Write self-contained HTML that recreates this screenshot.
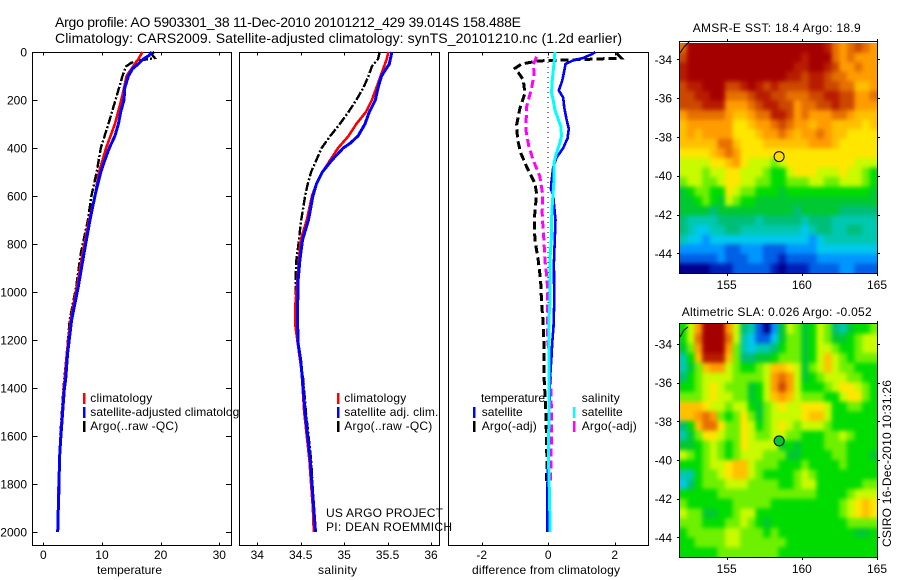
<!DOCTYPE html>
<html lang="en">
<head>
<meta charset="utf-8">
<title>Argo profile 5903301_38</title>
<style>
html,body{margin:0;padding:0;background:#fff;}
svg{display:block;}
text{font-family:"Liberation Sans",sans-serif;fill:#000;}
</style>
</head>
<body>
<svg id="fig" xmlns="http://www.w3.org/2000/svg" width="900" height="580" viewBox="0 0 900 580">
<rect x="0" y="0" width="900" height="580" fill="#fff"/>
<text x="55" y="27" font-size="14" textLength="466">Argo profile: AO 5903301_38 11-Dec-2010 20101212_429 39.014S 158.488E</text>
<text x="55" y="43" font-size="14" textLength="567">Climatology: CARS2009. Satellite-adjusted climatology: synTS_20101210.nc (1.2d earlier)</text>
<g id="layer"></g>
</svg>
<script>
// ---- depth axis ticks ----
const depthTicks = [0,200,400,600,800,1000,1200,1400,1600,1800,2000];
const tempTicks = [0,10,20,30];
const salTicks = [34,34.5,35,35.5,36];
const diffTicks = [-2,0,2];
const lonTicks = [155,160,165];
const latTicks = [-34,-36,-38,-40,-42,-44];

// ---- temperature panel ----
const tempClimDepths = [0,30,60,100,150,200,300,400,500,600,700,839,978,1117,1256,1367,1400,1600,1800,2000];
const tempClimValues = [16.9,16.2,15.3,14.2,13.75,13.3,12.2,10.7,9.5,8.8,7.8,6.7,5.75,4.65,4,3.65,3.5,2.95,2.6,2.45];
const tempSatDepths = [0,15,30,50,70,100,150,200,250,300,350,400,450,500,600,700,839,978,1117,1256,1367,1400,1600,1700,1800,1900,2000];
const tempSatValues = [18.5,18,17,16.2,15.2,14.5,13.9,13.75,13.2,12.8,12.2,11.25,10.5,9.8,8.8,7.96,6.93,5.97,4.83,4.15,3.8,3.6,3,2.75,2.7,2.55,2.45];
const tempArgoDepths = [0,10,25,35,45,60,100,150,200,300,400,500,600,700,839,978,1117,1256,1400,1600,1800,2000];
const tempArgoValues = [18.9,18.5,19,16.5,15,14.1,13.5,12.9,12.3,11.1,9.8,9.1,8.2,7.6,6.4,5.6,4.5,4,3.45,2.9,2.6,2.45];

// ---- salinity panel ----
const salClimDepths = [0,30,100,150,200,250,300,350,400,450,500,550,600,700,783,867,1047,1144,1172,1330,1500,1600,1700,1800,1900,2000];
const salClimValues = [35.51,35.49,35.42,35.37,35.32,35.25,35.14,35.05,34.93,34.84,34.75,34.68,34.63,34.57,34.5,34.48,34.44,34.44,34.45,34.51,34.54,34.57,34.6,34.62,34.64,34.65];
const salSatDepths = [0,50,100,150,200,250,300,350,380,400,450,500,550,600,700,783,867,950,1047,1144,1214,1283,1367,1500,1600,1700,1800,1900,2000];
const salSatValues = [35.55,35.52,35.43,35.39,35.36,35.29,35.24,35.16,35.07,34.99,34.86,34.75,34.68,34.64,34.59,34.52,34.49,34.47,34.465,34.465,34.47,34.5,34.52,34.55,34.58,34.61,34.63,34.65,34.67];
const salArgoDepths = [0,30,60,100,150,200,250,300,350,400,450,500,550,600,714,783,867,950,1047,1158,1200,1283,1367,1500,1700,1900];
const salArgoValues = [35.41,35.39,35.32,35.28,35.22,35.14,35.05,34.95,34.84,34.74,34.68,34.62,34.58,34.55,34.5,34.48,34.45,34.44,34.44,34.45,34.47,34.5,34.53,34.56,34.62,34.65];

// ---- difference panel ----
const diffTempSatDepths = [0,10,25,35,50,80,120,160,190,230,280,320,360,400,440,480,540,570,600,700,880,1047,1144,1214,1269,1367,1500,1700,1800,2000];
const diffTempSatValues = [1.42,1.3,1.05,.75,.52,.48,.42,.32,.45,.48,.55,.62,.58,.45,.25,.15,.1,.08,.15,.22,.17,.18,.16,.12,.1,.05,.03,0,-.02,-.03];
const diffSalSatDepths = [0,40,80,120,170,200,240,280,310,350,380,420,460,520,580,640,700,770,867,1047,1117,1367,1500,1700,1800,2000];
const diffSalSatValues = [.2,.18,.15,.12,.1,.15,.2,.3,.38,.4,.35,.25,.18,.18,.15,.12,.1,.1,.05,.05,.02,.02,.02,.01,.03,.06];
const diffTempArgoDepths = [5,26,28,30,33,35,37,50,68,86,116,172,234,304,366,422,478,547,590,700,783,867,950,1047,1130,1214,1297,1367,1500,1700,1800];
const diffTempArgoValues = [2.05,2.2,1.7,1.3,.7,.2,-.3,-.8,-1,-.9,-.75,-.7,-.85,-.95,-.92,-.82,-.65,-.4,-.35,-.42,-.4,-.3,-.23,-.2,-.15,-.13,-.12,-.12,-.07,-.04,-.05];
const diffSalArgoDepths = [20,54,89,151,228,325,394,450,519,589,672,700,783,867,950,1033,1200,1297,1367,1500,1600,1700,1800];
const diffSalArgoValues = [-.35,-.45,-.42,-.5,-.65,-.67,-.58,-.45,-.25,-.17,-.18,-.17,-.13,-.1,-.03,-.02,-.02,.07,.07,.1,.1,.08,.07];

// ---- SST map: colour levels, 0 = coldest, 17 = warmest; north row first ----
const sstLevels = [
[14,17,17,17,17,17,17,17,17,17,17,17,17,17,17,17,17,17,17,16,14,13,14,15,14,13],
[15,17,17,17,17,17,17,17,17,17,17,17,17,17,17,17,16,17,17,17,14,13,14,13,13,13],
[16,17,17,17,17,17,17,17,17,17,17,17,17,17,17,16,16,17,17,16,15,13,13,14,13,13],
[16,17,17,17,17,17,17,17,17,17,17,17,17,17,16,16,15,16,16,15,14,14,13,13,13,13],
[15,16,16,17,17,17,15,15,16,17,16,15,16,15,15,15,15,16,16,15,15,14,14,12,12,13],
[15,15,16,16,17,17,14,14,14,15,16,16,15,15,14,14,14,15,15,16,16,15,15,13,13,14],
[15,15,15,16,16,16,13,13,13,14,15,16,16,15,15,13,14,14,15,15,16,15,15,13,13,13],
[13,14,14,14,14,14,13,12,12,13,14,14,16,16,15,13,14,13,13,13,14,14,13,12,12,12],
[12,13,13,13,13,13,13,11,11,12,13,13,14,15,14,13,13,12,13,13,12,12,12,12,11,12],
[12,13,12,13,13,13,13,11,11,11,12,13,13,14,13,12,13,13,14,13,12,12,11,11,11,11],
[12,12,12,12,12,14,14,12,11,11,11,12,12,12,12,12,12,13,13,13,12,11,11,11,11,11],
[11,11,11,11,12,13,14,13,11,11,11,11,11,11,11,11,11,11,11,11,11,11,11,11,11,11],
[10,10,10,10,11,11,12,13,11,10,10,10,9,10,11,11,11,11,11,11,11,11,11,10,10,10],
[10,10,10,9,10,10,11,11,10,10,10,9,8,8,10,11,11,11,10,10,10,11,10,10,9,8],
[9,10,10,9,9,10,11,11,10,10,9,9,8,8,9,9,9,10,10,9,9,10,10,10,9,8],
[7,8,9,9,8,8,11,10,9,9,8,8,8,7,8,8,8,8,8,8,8,8,8,8,8,7],
[7,7,8,9,8,7,10,9,8,8,7,7,7,7,7,7,7,7,7,7,7,7,7,7,7,7],
[7,7,7,7,6,7,7,7,7,7,7,7,7,7,7,6,7,7,7,7,7,6,6,6,6,6],
[6,5,5,5,5,6,6,6,6,6,5,6,6,6,6,6,5,6,6,6,5,5,5,5,5,5],
[6,5,4,4,5,5,6,6,5,5,5,5,5,5,5,5,4,5,6,6,5,5,6,6,5,5],
[5,4,4,3,4,4,4,4,4,4,4,4,4,4,4,4,4,3,4,5,5,5,5,5,5,5],
[3,3,3,3,3,3,2,2,3,3,3,2,2,2,3,3,3,3,4,4,4,4,4,4,4,4],
[2,2,2,2,2,3,2,2,2,3,3,2,2,1,2,2,2,2,3,3,3,3,3,3,3,3],
[0,0,0,0,1,1,1,2,2,2,2,2,1,0,1,1,1,2,2,2,2,3,3,2,2,2]
];

// ---- SLA map: colour levels, north row first ----
const slaLevels = [
[8,10,13,17,17,17,13,10,6,5,2,0,3,7,10,9,7,8,10,9,6,5,7,8,8,9],
[8,10,14,17,17,17,14,10,5,4,2,2,4,7,9,9,7,8,10,9,7,7,8,9,10,10],
[7,9,13,17,17,17,13,9,5,4,5,5,6,8,9,9,7,8,10,10,9,8,8,9,10,10],
[5,8,12,16,16,16,12,9,6,6,7,7,8,9,9,9,7,8,10,12,10,9,8,9,9,9],
[5,7,9,12,13,13,10,9,8,8,9,10,12,12,11,10,7,9,10,12,10,9,9,8,8,8],
[6,8,9,10,10,10,10,9,9,9,9,10,13,14,13,10,7,8,9,10,10,10,9,9,8,8],
[8,8,9,10,11,10,9,9,9,7,8,10,13,15,13,10,8,8,8,9,10,11,11,10,9,8],
[9,9,9,10,11,10,10,9,9,7,8,10,12,13,12,10,9,9,9,8,8,10,11,11,9,8],
[12,12,12,11,10,10,9,10,10,8,7,9,10,11,10,10,11,11,11,10,8,8,9,9,8,8],
[12,12,13,14,13,9,8,9,11,9,7,9,10,10,10,10,11,12,12,10,8,8,8,8,8,8],
[6,8,12,14,14,11,9,9,11,10,8,9,10,11,10,9,10,10,10,9,8,8,8,8,8,8],
[5,7,9,11,11,10,9,9,11,10,9,9,10,10,9,9,8,8,8,9,9,10,9,8,8,8],
[7,7,8,9,10,9,8,9,11,10,10,10,10,7,8,7,8,8,8,9,9,9,8,8,8,8],
[10,9,8,9,10,9,8,9,10,10,10,9,9,9,7,7,8,8,8,8,9,9,8,8,8,7],
[8,8,8,9,10,10,11,12,12,10,9,9,9,8,8,8,9,8,8,8,8,9,8,8,8,8],
[5,5,8,9,9,10,11,12,12,10,9,8,8,8,8,9,10,9,8,8,8,8,8,8,8,8],
[4,6,8,9,9,9,10,10,10,9,9,9,9,8,8,9,10,10,8,8,8,8,8,8,9,9],
[8,8,8,8,8,9,9,9,9,9,9,9,9,9,9,9,9,9,8,8,8,8,9,10,10,10],
[9,8,8,8,8,8,8,9,9,9,9,9,8,8,8,8,8,8,8,8,8,9,10,11,12,11],
[10,9,9,7,7,8,8,9,10,10,8,8,8,8,8,8,8,8,8,8,8,9,10,11,12,11],
[9,9,9,8,8,8,9,9,10,9,8,7,8,8,8,8,8,8,8,8,8,8,9,9,9,9],
[8,9,9,9,9,9,10,10,9,9,9,8,9,8,8,8,8,8,8,8,8,8,8,7,7,8],
[8,8,9,9,9,9,10,10,9,9,9,9,9,9,8,8,8,8,8,8,8,8,8,8,8,8],
[8,8,8,8,8,9,9,9,9,9,9,9,9,8,8,8,8,8,8,8,8,8,8,8,8,8]
];

// ---- float position ----
const floatLon = 158.488;
const floatLat = -39.014;

const palette = ["#00008c","#0020b8","#0060e6","#0096ff","#00c8ee","#00c8b0","#00be78","#00c832","#00dc00","#6ef000","#c8fa00","#ffe600","#ffc000","#ff9c00","#e67000","#cc4800","#b81c00","#a50000"];
const SVGNS = "http://www.w3.org/2000/svg";
const layer = document.getElementById("layer");

function levelColor(v){
  const i = Math.max(0, Math.min(palette.length - 1, Math.round(v)));
  return palette[i];
}
function linear(d0, r0, d1, r1){
  return function(v){ return r0 + (v - d0) * (r1 - r0) / (d1 - d0); };
}
function make(tag, attrs, name, parent){
  const el = document.createElementNS(SVGNS, tag);
  for (const k in attrs) el.setAttribute(k, attrs[k]);
  
  
  (parent || layer).appendChild(el);
  return el;
}
function label(x, y, str, size, anchor, name, len, parent){
  const attrs = {x: x, y: y, "font-size": size, "text-anchor": anchor};
  if (len) attrs.textLength = len;
  const t = make("text", attrs, name, parent);
  t.textContent = str;
  return t;
}

const yDepth = linear(0, 52, 2000, 532);

function drawPanel(key, left, right, xScale, ticks, xTitle, titleX, titleLen, withDepth){
  const g = make("g", {}, key + "-panel");
  make("rect", {x: left + .5, y: 52.5, width: right - left, height: 493, fill: "#fff", stroke: "#000", "stroke-width": 1, "shape-rendering": "crispEdges"}, key + "-axes-box", g);
  ticks.forEach(function(t){
    const x = Math.round(xScale(t)) + .5;
    make("line", {x1: x, x2: x, y1: 52.5, y2: 55.5, stroke: "#000", "shape-rendering": "crispEdges"}, key + "-top-tick", g);
    make("line", {x1: x, x2: x, y1: 545.5, y2: 542.5, stroke: "#000", "shape-rendering": "crispEdges"}, key + "-bottom-tick", g);
    label(xScale(t), 559, String(t), 12, "middle", key + "-x-tick-label", null, g);
  });
  if (withDepth) {
    depthTicks.forEach(function(d){
      const y = Math.round(yDepth(d)) + .5;
      make("line", {x1: left + .5, x2: left + 5.5, y1: y, y2: y, stroke: "#000", "shape-rendering": "crispEdges"}, "depth-left-tick", g);
      make("line", {x1: right + .5, x2: right - 5, y1: y, y2: y, stroke: "#000", "shape-rendering": "crispEdges"}, "depth-right-tick", g);
      label(27, yDepth(d) + 4.5, String(d), 12, "end", "depth-tick-label", null, g);
    });
  }
  label(titleX, 574, xTitle, 12, "start", key + "-x-axis-title", titleLen, g);
  return g;
}
function drawCurve(g, xScale, depths, values, color, width, dash, name){
  const pts = depths.map(function(d, i){ return xScale(values[i]).toFixed(1) + "," + yDepth(d).toFixed(1); }).join(" ");
  const attrs = {points: pts, fill: "none", stroke: color, "stroke-width": width, "shape-rendering": "crispEdges"};
  if (dash) attrs["stroke-dasharray"] = dash;
  make("polyline", attrs, name, g);
}
function legendRow(g, barX, textX, y, color, str, name, len){
  if (color) make("rect", {x: barX, y: y - 9, width: 2.5, height: 11, fill: color}, name + "-swatch", g);
  label(textX, y, str, 12, "start", name + "-label", len, g);
}

// temperature
const xTemp = linear(0, 43.3, 30, 219.3);
const gTemp = drawPanel("temperature", 32, 231, xTemp, tempTicks, "temperature", 97, 65, true);
drawCurve(gTemp, xTemp, tempArgoDepths, tempArgoValues, "#000", 2.4, "9 2 2 2", "temperature-argo-line");
drawCurve(gTemp, xTemp, tempClimDepths, tempClimValues, "#f00", 2.6, null, "temperature-climatology-line");
drawCurve(gTemp, xTemp, tempSatDepths, tempSatValues, "#00f", 3, null, "temperature-satellite-line");
legendRow(gTemp, 83, 90.3, 402, "#f00", "climatology", "temperature-legend-climatology", 62);
legendRow(gTemp, 83, 90.3, 416, "#00f", "satellite-adjusted climatology", "temperature-legend-satellite", 155);
legendRow(gTemp, 83, 90.3, 430, "#000", "Argo(..raw -QC)", "temperature-legend-argo", 88);

// salinity
const xSal = linear(34, 257.3, 36, 431);
const gSal = drawPanel("salinity", 239, 439, xSal, salTicks, "salinity", 318, 39, false);
drawCurve(gSal, xSal, salArgoDepths, salArgoValues, "#000", 2.4, "9 2 2 2", "salinity-argo-line");
drawCurve(gSal, xSal, salClimDepths, salClimValues, "#f00", 2.6, null, "salinity-climatology-line");
drawCurve(gSal, xSal, salSatDepths, salSatValues, "#00f", 3, null, "salinity-satellite-line");
legendRow(gSal, 337, 344.3, 402, "#f00", "climatology", "salinity-legend-climatology", 62);
legendRow(gSal, 337, 344.3, 416, "#00f", "satellite adj. clim.", "salinity-legend-satellite", 94);
legendRow(gSal, 337, 344.3, 430, "#000", "Argo(..raw -QC)", "salinity-legend-argo", 88);

// difference
const xDiff = linear(-2, 481.7, 2, 614.7);
const gDiff = drawPanel("difference", 448, 648, xDiff, diffTicks, "difference from climatology", 472, 148, false);
make("line", {x1: xDiff(0), x2: xDiff(0), y1: 52, y2: 532, stroke: "#000", "stroke-width": 1, "stroke-dasharray": "1 4", "shape-rendering": "crispEdges"}, "zero-difference-line", gDiff);
drawCurve(gDiff, xDiff, diffTempArgoDepths, diffTempArgoValues, "#000", 3, "8 4", "difference-temperature-argo-line");
drawCurve(gDiff, xDiff, diffSalArgoDepths, diffSalArgoValues, "#f0f", 3, "8 4", "difference-salinity-argo-line");
drawCurve(gDiff, xDiff, diffTempSatDepths, diffTempSatValues, "#00f", 2.6, null, "difference-temperature-satellite-line");
drawCurve(gDiff, xDiff, diffSalSatDepths, diffSalSatValues, "#0ff", 3, null, "difference-salinity-satellite-line");
legendRow(gDiff, 473, 481, 402, null, "temperature", "difference-legend-temperature-heading", 64);
legendRow(gDiff, 473, 481.7, 416, "#00f", "satellite", "difference-legend-temperature-satellite", 41);
legendRow(gDiff, 473, 481.7, 430, "#000", "Argo(-adj)", "difference-legend-temperature-argo", 55);
legendRow(gDiff, 573, 581.7, 402, null, "salinity", "difference-legend-salinity-heading", 38);
legendRow(gDiff, 573, 581.7, 416, "#0ff", "satellite", "difference-legend-salinity-satellite", 41);
legendRow(gDiff, 573, 581.7, 430, "#f0f", "Argo(-adj)", "difference-legend-salinity-argo", 55);

label(326, 517, "US ARGO PROJECT", 12, "start", "project-credit", 117);
label(326, 531, "PI: DEAN ROEMMICH", 12, "start", "pi-credit", 126);

// maps
function drawMap(key, levels, boxTop, imgTop, boxBottom, y34, y44, title, titleX, titleLen, titleY, labelY, markerFill){
  const g = make("g", {}, key + "-map");
  const xLon = linear(155, 726.7, 165, 877);
  const yLat = linear(-34, y34, -44, y44);
  const rows = levels.length;
  const cols = levels[0].length;
  const left = 679.3;
  const right = 877.3;
  const cw = (right - left) / cols;
  const ch = (boxBottom - imgTop) / rows;
  const defs = make("defs", {}, key + "-defs", g);
  const clip = make("clipPath", {id: key + "-clip"}, key + "-clip-region", defs);
  make("rect", {x: left, y: imgTop, width: right - left, height: boxBottom - imgTop}, key + "-clip-rect", clip);
  const blur = make("filter", {id: key + "-soften", filterUnits: "userSpaceOnUse", x: left - 20, y: imgTop - 20, width: right - left + 40, height: boxBottom - imgTop + 40, "color-interpolation-filters": "sRGB"}, key + "-soften-filter", defs);
  make("feGaussianBlur", {stdDeviation: 2}, key + "-soften-blur", blur);
  const clipped = make("g", {"clip-path": "url(#" + key + "-clip)"}, key + "-image-clip", g);
  const image = make("g", {filter: "url(#" + key + "-soften)"}, key + "-image", clipped);
  const pad = 14;
  levels.forEach(function(row, r){
    row.forEach(function(v, c){
      // edge cells run past the clip so the softening does not fade at the border
      const x0 = left + c * cw - (c === 0 ? pad : 0);
      const x1 = left + (c + 1) * cw + (c === cols - 1 ? pad : 0);
      const y0 = imgTop + r * ch - (r === 0 ? pad : 0);
      const y1 = imgTop + (r + 1) * ch + (r === rows - 1 ? pad : 0);
      make("rect", {x: x0.toFixed(2), y: y0.toFixed(2), width: (x1 - x0 + .4).toFixed(2), height: (y1 - y0 + .4).toFixed(2), fill: levelColor(v)}, key + "-cell", image);
    });
  });
  make("rect", {x: 679.5, y: boxTop + .5, width: 198, height: boxBottom - boxTop, fill: "none", stroke: "#000", "shape-rendering": "crispEdges"}, key + "-axes-box", g);
  lonTicks.forEach(function(t){
    const x = Math.round(xLon(t)) + .5;
    make("line", {x1: x, x2: x, y1: boxTop - 2, y2: boxTop, stroke: "#000", "shape-rendering": "crispEdges"}, key + "-top-tick", g);
    make("line", {x1: x, x2: x, y1: boxBottom, y2: boxBottom + 3, stroke: "#000", "shape-rendering": "crispEdges"}, key + "-bottom-tick", g);
    label(xLon(t), labelY, String(t), 12, "middle", key + "-lon-label", null, g);
  });
  latTicks.forEach(function(t){
    const y = Math.round(yLat(t)) + .5;
    make("line", {x1: 677, x2: 679.5, y1: y, y2: y, stroke: "#000", "shape-rendering": "crispEdges"}, key + "-left-tick", g);
    make("line", {x1: 877.5, x2: 880, y1: y, y2: y, stroke: "#000", "shape-rendering": "crispEdges"}, key + "-right-tick", g);
    label(672, yLat(t) + 4.5, String(t), 12, "end", key + "-lat-label", null, g);
  });
  make("circle", {cx: xLon(floatLon), cy: yLat(floatLat), r: 5, fill: markerFill, stroke: "#000", "stroke-width": 1}, key + "-float-marker", g);
  label(titleX, titleY, title, 12, "start", key + "-title", titleLen, g);
  return g;
}
const gSst = drawMap("sst", sstLevels, 41, 43, 273, 59.3, 253.3, "AMSR-E SST: 18.4  Argo: 18.9", 692.7, 168, 32, 289, "#ffdc00");
make("polyline", {points: "680,53 684,47 690,41", fill: "none", stroke: "#000", "stroke-width": 1}, "sst-coastline", gSst);
const gSla = drawMap("sla", slaLevels, 323, 324, 557, 344, 537.3, "Altimetric SLA: 0.026 Argo: -0.052", 681.7, 190, 316, 573, "#00c832");
make("polyline", {points: "680,337 684,330 688,327", fill: "none", stroke: "#000", "stroke-width": 1}, "sla-coastline", gSla);

const stamp = label(891, 547, "CSIRO 16-Dec-2010 10:31:26", 12, "start", "csiro-timestamp", 167);
stamp.setAttribute("transform", "rotate(-90 891 547)");
</script>
</body>
</html>
